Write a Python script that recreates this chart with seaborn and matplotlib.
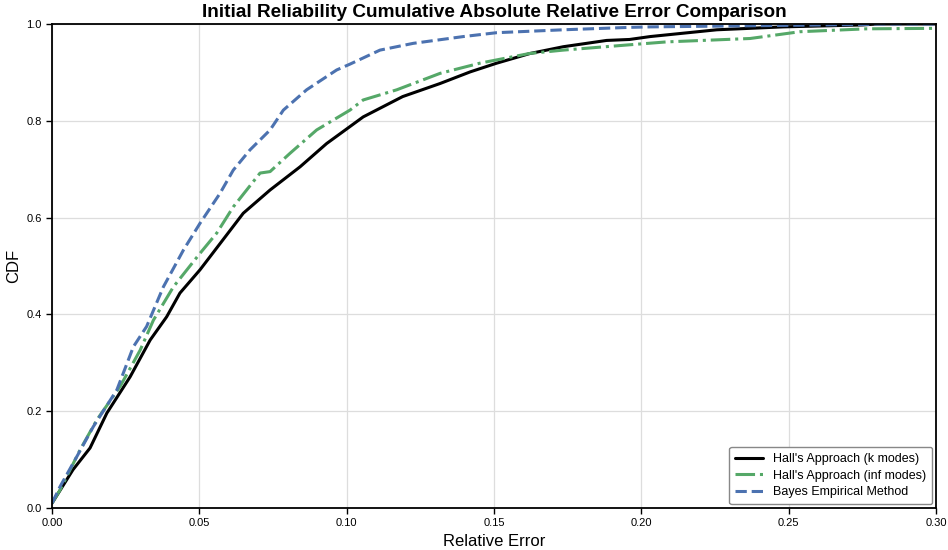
import matplotlib
matplotlib.use("Agg")
import matplotlib.pyplot as plt
import seaborn as sns

# CDF, (relative error, cumulative fraction)
k_err = [0.0, 0.0071, 0.0129, 0.0186, 0.0265, 0.0333, 0.0389, 0.0434, 0.0502,
         0.0536, 0.0649, 0.074, 0.0842, 0.0932, 0.1011, 0.1056, 0.119, 0.1317,
         0.1419, 0.1509, 0.1622, 0.1735, 0.1882, 0.196, 0.203, 0.2256, 0.248,
         0.275, 0.28, 0.30]
k_cdf = [0.01, 0.079, 0.124, 0.196, 0.271, 0.347, 0.395, 0.444, 0.492,
         0.519, 0.609, 0.657, 0.705, 0.753, 0.788, 0.808, 0.850, 0.877,
         0.901, 0.919, 0.939, 0.953, 0.966, 0.968, 0.974, 0.988, 0.994,
         0.998, 1.0, 1.0]

inf_err = [0.0, 0.0027, 0.0095, 0.0152, 0.0231, 0.0299, 0.0344, 0.0412, 0.0502,
           0.0559, 0.0615, 0.0706, 0.074, 0.0808, 0.0898, 0.1011, 0.1056, 0.117,
           0.1317, 0.1452, 0.162, 0.1735, 0.196, 0.2086, 0.2369, 0.2538, 0.2765,
           0.30]
inf_cdf = [0.01, 0.037, 0.12, 0.182, 0.251, 0.326, 0.388, 0.457, 0.526,
           0.568, 0.622, 0.692, 0.695, 0.733, 0.781, 0.822, 0.843, 0.864,
           0.898, 0.919, 0.939, 0.946, 0.957, 0.963, 0.970, 0.984, 0.990,
           0.991]

bayes_err = [0.0, 0.0027, 0.0084, 0.014, 0.022, 0.0276, 0.0321, 0.0378, 0.0446,
             0.0502, 0.057, 0.0615, 0.0672, 0.074, 0.0785, 0.0864, 0.0966, 0.1011,
             0.1113, 0.1226, 0.1396, 0.1509, 0.1735, 0.196, 0.203, 0.2765, 0.28,
             0.30]
bayes_cdf = [0.01, 0.044, 0.106, 0.168, 0.244, 0.333, 0.375, 0.457, 0.533,
             0.588, 0.650, 0.698, 0.740, 0.781, 0.822, 0.864, 0.905, 0.917,
             0.946, 0.960, 0.974, 0.982, 0.988, 0.993, 0.994, 0.999, 1.0,
             1.0]

sns.set_style("whitegrid")
plt.rcParams['font.family'] = ['Liberation Sans', 'DejaVu Sans']
plt.rcParams['axes.edgecolor'] = 'black'
plt.rcParams['axes.linewidth'] = 1.3
plt.rcParams['text.color'] = 'black'
plt.rcParams['axes.labelcolor'] = 'black'
plt.rcParams['xtick.color'] = 'black'
plt.rcParams['ytick.color'] = 'black'

fig = plt.figure(figsize=(9.48, 5.5), dpi=100)
ax = fig.add_axes([0.0549, 0.0764, 0.9324, 0.88])

sns.lineplot(x=k_err, y=k_cdf, ax=ax, color='black', lw=2.2, linestyle='-',
             sort=False, estimator=None, label="Hall's Approach (k modes)")
sns.lineplot(x=inf_err, y=inf_cdf, ax=ax, color='#55A868', lw=2.2, linestyle='-.',
             sort=False, estimator=None, label="Hall's Approach (inf modes)")
sns.lineplot(x=bayes_err, y=bayes_cdf, ax=ax, color='#4C72B0', lw=2.2, linestyle='--',
             sort=False, estimator=None, label="Bayes Empirical Method")

ax.set_xlim(0, 0.30)
ax.set_ylim(0, 1.0)
ax.set_xticks([0.0, 0.05, 0.10, 0.15, 0.20, 0.25, 0.30])
ax.set_xticklabels(['0.00', '0.05', '0.10', '0.15', '0.20', '0.25', '0.30'])
ax.set_yticks([0.0, 0.2, 0.4, 0.6, 0.8, 1.0])
ax.tick_params(axis='both', labelsize=8, length=4, width=1, color='black',
               bottom=True, left=True)
ax.grid(color='#dddddd', lw=0.9)
for s in ax.spines.values():
    s.set_color('black')

ax.set_xlabel('Relative Error', fontsize=12, labelpad=4)
ax.set_ylabel('CDF', fontsize=12, labelpad=4)
ax.set_title('Initial Reliability Cumulative Absolute Relative Error Comparison',
             fontsize=13.7, fontweight='bold', pad=5)

leg = ax.legend(loc='lower right', fontsize=9, frameon=True, framealpha=1,
                edgecolor='#888888', handlelength=2.2, borderpad=0.5,
                labelspacing=0.35, borderaxespad=0.3)

fig.savefig('out.png', dpi=100)
